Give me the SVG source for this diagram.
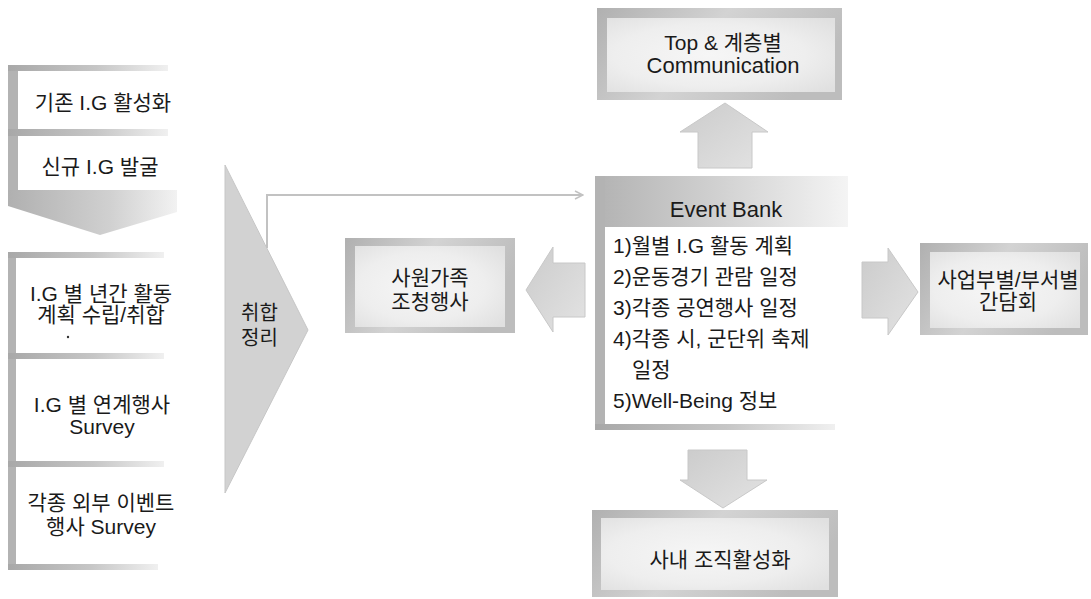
<svg xmlns="http://www.w3.org/2000/svg" width="1091" height="599" viewBox="0 0 1091 599">
<defs>
<style>
text{font-family:"Liberation Sans","Noto Sans CJK KR",sans-serif;font-size:21px;fill:#1a1a1a}
.c{text-anchor:middle}
.strip{fill:#b3b3b3}
.bar{fill:url(#hbar)}
.inner{fill:url(#inner)}
.frame{fill:url(#frame)}
.blk{fill:url(#arrow);stroke:#c8c8c8;stroke-width:1}
.line{fill:none;stroke:#c2c2c2;stroke-width:2}
</style>
<linearGradient id="hbar" x1="0" y1="0" x2="1" y2="0">
<stop offset="0" stop-color="#a8a8a8"/><stop offset="0.55" stop-color="#c6c6c6"/><stop offset="1" stop-color="#f0f0f0"/>
</linearGradient>
<linearGradient id="frame" x1="0" y1="0" x2="1" y2="0.3">
<stop offset="0" stop-color="#b0b0b0"/><stop offset="0.5" stop-color="#d3d3d3"/><stop offset="1" stop-color="#bdbdbd"/>
</linearGradient>
<radialGradient id="inner" cx="0.45" cy="0.5" r="0.7">
<stop offset="0" stop-color="#f6f6f6"/><stop offset="0.6" stop-color="#eeeeee"/><stop offset="1" stop-color="#e0e0e0"/>
</radialGradient>
<linearGradient id="arrow" x1="0" y1="0" x2="1" y2="1">
<stop offset="0" stop-color="#cbcbcb"/><stop offset="1" stop-color="#e3e3e3"/>
</linearGradient>
<linearGradient id="chev" x1="0" y1="0" x2="1" y2="0">
<stop offset="0" stop-color="#b0b0b0"/><stop offset="0.6" stop-color="#d0d0d0"/><stop offset="1" stop-color="#f2f2f2"/>
</linearGradient>
<linearGradient id="ebhead" x1="0" y1="0" x2="1" y2="0">
<stop offset="0" stop-color="#b2b2b2"/><stop offset="0.5" stop-color="#d2d2d2"/><stop offset="1" stop-color="#f4f4f4"/>
</linearGradient>
<marker id="ah" markerWidth="10" markerHeight="10" refX="9" refY="5" orient="auto" markerUnits="userSpaceOnUse">
<path d="M1,1 L9,5 L1,9" fill="none" stroke="#c2c2c2" stroke-width="1.5"/>
</marker>
</defs>
<rect width="1091" height="599" fill="#ffffff"/>

<!-- left column, upper part -->
<g id="node-ig-existing">
<rect class="strip" x="8" y="65" width="10" height="65"/>
<rect class="bar" x="8" y="65" width="160" height="6"/>
<text class="c" x="103" y="110">기존 I.G 활성화</text>
</g>
<g id="node-ig-new">
<rect class="strip" x="8" y="130" width="10" height="62"/>
<rect class="bar" x="8" y="129" width="160" height="7"/>
<text class="c" x="100" y="174">신규 I.G 발굴</text>
</g>

<!-- left column, lower part -->
<g id="node-plan">
<rect class="strip" x="8" y="252" width="8" height="104"/>
<rect class="bar" x="8" y="252" width="156" height="6"/>
<text class="c" x="101" y="301">I.G 별 년간 활동</text>
<text class="c" x="101" y="322">계획 수립/취합</text>
<circle cx="68" cy="337" r="1.2" fill="#333"/>
</g>
<g id="node-survey-ig">
<rect class="strip" x="8" y="354" width="8" height="110"/>
<rect class="bar" x="8" y="353" width="156" height="6"/>
<text class="c" x="102" y="412">I.G 별 연계행사</text>
<text class="c" x="102" y="434">Survey</text>
</g>
<g id="node-survey-ext">
<rect class="strip" x="8" y="462" width="8" height="108"/>
<rect class="bar" x="8" y="461" width="156" height="6"/>
<rect class="bar" x="8" y="564" width="150" height="6"/>
<text class="c" x="101" y="510">각종 외부 이벤트</text>
<text class="c" x="101" y="534">행사 Survey</text>
</g>

<!-- collect arrow -->
<g id="node-collect">
<polygon points="225,165 308,330 225,493" fill="#d2d2d2" stroke="#c6c6c6" stroke-width="1"/>
<text x="241" y="320" style="font-size:20px">취합</text>
<text x="241" y="345" style="font-size:20px">정리</text>
</g>

<!-- family event box -->
<g id="node-family">
<rect class="frame" x="345" y="238" width="170" height="95"/>
<rect class="inner" x="355" y="246" width="150" height="81"/>
<text class="c" x="430" y="285">사원가족</text>
<text class="c" x="430" y="309">조청행사</text>
</g>

<!-- event bank -->
<g id="node-eventbank">
<rect x="595" y="176" width="253" height="254" fill="#ffffff"/>
<rect x="595" y="176" width="253" height="51" fill="url(#ebhead)"/>
<rect class="strip" x="595" y="176" width="10" height="254"/>
<rect class="bar" x="595" y="424" width="240" height="6"/>
<text class="c" x="726" y="217" style="font-size:22px">Event Bank</text>
<text x="613" y="253">1)월별 I.G 활동 계획</text>
<text x="613" y="284">2)운동경기 관람 일정</text>
<text x="613" y="315">3)각종 공연행사 일정</text>
<text x="613" y="346">4)각종 시, 군단위 축제</text>
<text x="632" y="377">일정</text>
<text x="613" y="408">5)Well-Being 정보</text>
</g>

<!-- top box -->
<g id="node-top">
<rect class="frame" x="597" y="8" width="245" height="92"/>
<rect class="inner" x="607" y="18" width="228" height="74"/>
<text class="c" x="723" y="50">Top &amp; 계층별</text>
<text class="c" x="723" y="73" style="font-size:22px">Communication</text>
</g>

<!-- right box -->
<g id="node-meeting">
<rect class="frame" x="920" y="243" width="168" height="92"/>
<rect class="inner" x="930" y="252" width="150" height="76"/>
<text class="c" x="1008" y="287">사업부별/부서별</text>
<text class="c" x="1008" y="309">간담회</text>
</g>

<!-- bottom box -->
<g id="node-org">
<rect class="frame" x="592" y="510" width="246" height="87"/>
<rect class="inner" x="601" y="518" width="228" height="72"/>
<text class="c" x="720" y="567">사내 조직활성화</text>
</g>

<!-- connectors -->
<g id="connectors">
<polygon points="8,190 177,190 177,212 100,235 8,206" fill="url(#chev)"/>
<polyline class="line" points="267,248 267,195 583,195" marker-end="url(#ah)"/>
<polygon class="blk" points="526,290 553,247 553,263 585,263 585,317 553,317 553,332"/>
<polygon class="blk" points="725,103 768,132 752,132 752,168 698,168 698,132 680,132"/>
<polygon class="blk" points="688,450 747,450 747,480 767,480 723,508 680,480 688,480"/>
<polygon class="blk" points="862,262 888,262 888,248 918,292 888,335 888,318 862,318"/>
</g>
</svg>
